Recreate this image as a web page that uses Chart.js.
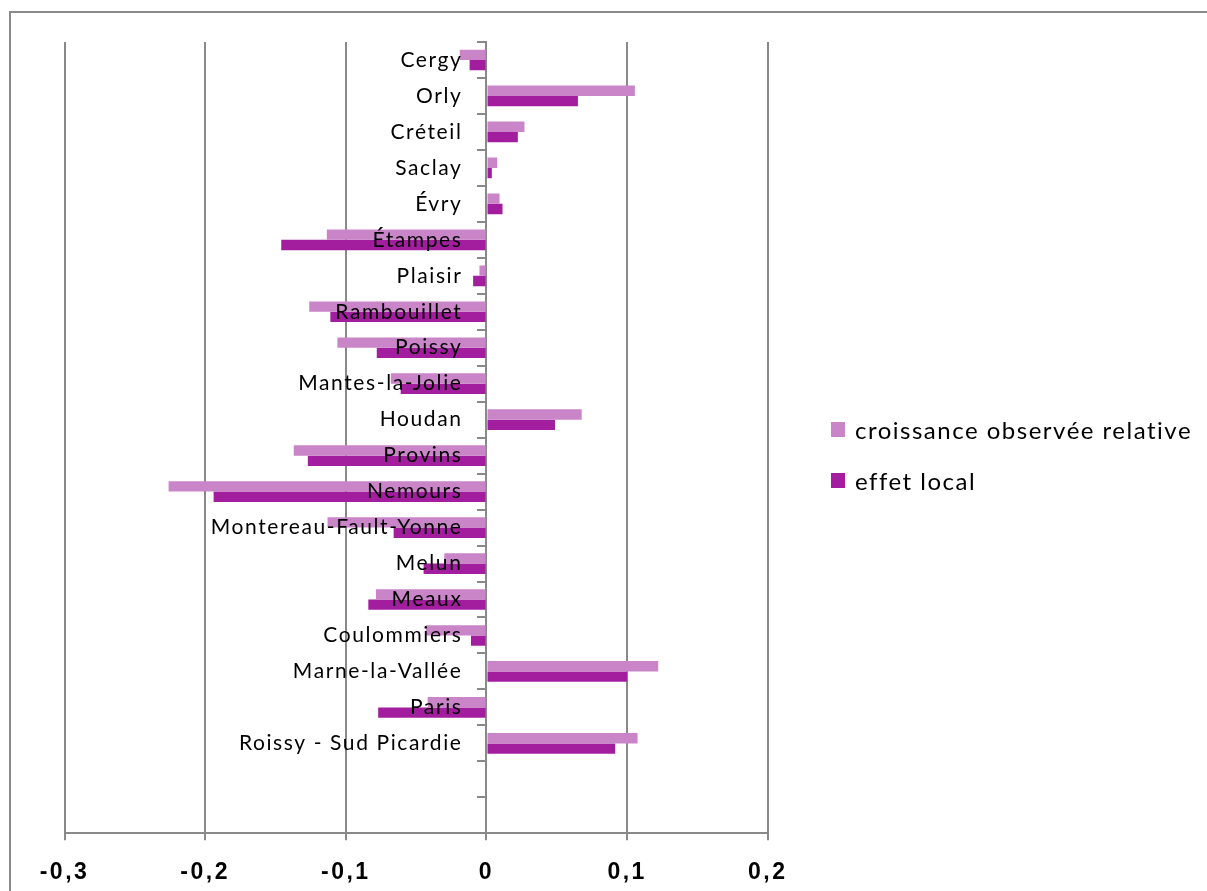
<!DOCTYPE html>
<html lang="fr">
<head>
<meta charset="utf-8">
<title>Croissance observée relative et effet local</title>
<script src="https://cdn.jsdelivr.net/npm/chart.js@4.4.1/dist/chart.umd.min.js"></script>
<style>
  html, body { margin: 0; padding: 0; background: #fff; }
  #wrap { position: relative; width: 1207px; height: 891px; overflow: hidden; background: #fff; }
  #frame { position: absolute; left: 9px; top: 11px; width: 1400px; height: 1100px;
           border-left: 2px solid #8a8a8a; border-top: 2px solid #8a8a8a; box-sizing: border-box; }
  #chart { position: absolute; left: 0; top: 0; }
  .lg { position: absolute; left: 831px; height: 28px; display: flex; align-items: center;
        font-family: Lato, "Open Sans", sans-serif; font-size: 24px; color: #000; letter-spacing: 1.5px; white-space: nowrap; }
  .lg .sw { display: inline-block; width: 14px; height: 15px; margin-right: 10px; }
</style>
</head>
<body>
<div id="wrap">
  <div id="frame"></div>
  <canvas id="chart" width="1207" height="891"></canvas>
</div>
<script>
// Pôles d'Île-de-France, du haut vers le bas (les deux dernières lignes sont vides)
const categories = ['Cergy', 'Orly', 'Créteil', 'Saclay', 'Évry', 'Étampes', 'Plaisir',
  'Rambouillet', 'Poissy', 'Mantes-la-Jolie', 'Houdan', 'Provins', 'Nemours',
  'Montereau-Fault-Yonne', 'Melun', 'Meaux', 'Coulommiers', 'Marne-la-Vallée', 'Paris',
  'Roissy - Sud Picardie', '', ''];

const seriesNames = ['croissance observée relative', 'effet local'];

const croissanceObservee = [-0.019, 0.1055, 0.027, 0.0076, 0.0093, -0.1135, -0.005,
  -0.126, -0.106, -0.068, 0.0677, -0.137, -0.226,
  -0.113, -0.030, -0.0786, -0.043, 0.1221, -0.0418,
  0.1074, null, null];

const effetLocal = [-0.012, 0.065, 0.0223, 0.0038, 0.0114, -0.1459, -0.0095,
  -0.111, -0.078, -0.061, 0.0487, -0.127, -0.194,
  -0.066, -0.0447, -0.084, -0.011, 0.100, -0.077,
  0.0915, null, null];

const xTicks = [-0.3, -0.2, -0.1, 0, 0.1, 0.2];

const colors = ['#C985C7', '#A21E9E'];
const gridGrey = '#898989';

// Espacement des lettres sur le canevas : étiquettes de l'axe des valeurs, puis des pôles
const spacing = {
  id: 'spacing',
  beforeDraw(chart) { chart.ctx.letterSpacing = '2.5px'; },
  afterDatasetsDraw(chart) { chart.ctx.letterSpacing = '1.6px'; },
  afterDraw(chart) { chart.ctx.letterSpacing = '0px'; }
};

// L'axe des pôles est placé sur x = 0 : ses étiquettes sont décalées à gauche des graduations
const labelGap = {
  id: 'labelGap',
  beforeDraw(chart) {
    const items = chart.scales.y.getLabelItems();
    if (items._gap) return;
    items.forEach(it => { it.options.translation[0] -= 24; });
    items._gap = true;
  }
};

const fmt = v => {
  const r = Math.round(v * 10) / 10;
  return r === 0 ? '0' : r.toFixed(1).replace('.', ',');
};

const chart = new Chart(document.getElementById('chart'), {
  type: 'bar',
  data: {
    labels: categories,
    datasets: [
      { label: seriesNames[0], data: croissanceObservee, backgroundColor: colors[0] },
      { label: seriesNames[1], data: effetLocal, backgroundColor: colors[1] }
    ]
  },
  options: {
    indexAxis: 'y',
    responsive: false,
    animation: false,
    devicePixelRatio: 1,
    categoryPercentage: 0.575,
    barPercentage: 1.0,
    layout: { padding: { left: 64.5, right: 439.2, top: 42, bottom: 0 } },
    plugins: { legend: { display: false }, tooltip: { enabled: false } },
    scales: {
      x: {
        type: 'linear',
        position: 'bottom',
        min: -0.3,
        max: 0.2,
        afterBuildTicks: s => { s.ticks = xTicks.map(v => ({ value: v })); },
        afterFit: s => { s.height = 57.7; },
        ticks: {
          callback: v => fmt(v),
          color: '#000',
          padding: 19,
          maxRotation: 0,
          font: { family: '"Liberation Sans", Arial, sans-serif', weight: 'bold', size: 23 }
        },
        grid: { color: gridGrey, lineWidth: 2, tickLength: 7, drawTicks: true },
        border: { color: gridGrey, width: 2 }
      },
      y: {
        type: 'category',
        position: { x: 0 },
        offset: true,
        grid: { offset: true, drawOnChartArea: false, drawTicks: true, tickLength: 8,
                color: gridGrey, lineWidth: 2 },
        border: { display: true, color: gridGrey, width: 2 },
        ticks: {
          z: 1,
          autoSkip: false,
          color: '#000',
          font: { family: 'Lato, "Open Sans", sans-serif', size: 21 }
        }
      }
    }
  },
  plugins: [spacing, labelGap]
});

// Légende à droite, construite à partir des séries du graphique
const wrap = document.getElementById('wrap');
const legendTops = [415, 466];
chart.data.datasets.forEach((ds, i) => {
  const item = document.createElement('div');
  item.className = 'lg';
  item.style.top = legendTops[i] + 'px';
  const sw = document.createElement('span');
  sw.className = 'sw';
  sw.style.background = ds.backgroundColor;
  const tx = document.createElement('span');
  tx.textContent = ds.label;
  item.appendChild(sw);
  item.appendChild(tx);
  wrap.appendChild(item);
});
</script>
</body>
</html>
